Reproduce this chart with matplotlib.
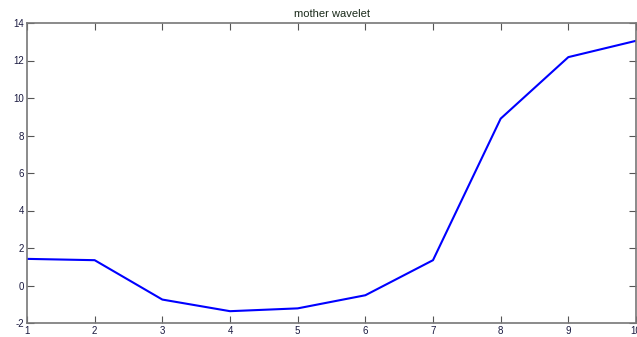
import matplotlib
matplotlib.use('Agg')
import matplotlib.pyplot as plt

plt.rcParams['font.family'] = ['Liberation Sans', 'DejaVu Sans']
plt.rcParams['axes.unicode_minus'] = False

x = [1, 2, 3, 4, 5, 6, 7, 8, 9, 10]
y = [1.42, 1.35, -0.75, -1.37, -1.22, -0.52, 1.35, 8.9, 12.18, 13.05]

xticks = [1, 2, 3, 4, 5, 6, 7, 8, 9, 10]
yticks = [-2, 0, 2, 4, 6, 8, 10, 12, 14]

fig = plt.figure(figsize=(6.37, 3.37), dpi=100)
ax = fig.add_axes([27 / 637, 14 / 337, 609 / 637, 300 / 337])

ax.plot(x, y, color='#0000ff', lw=1.5)

ax.set_xlim(1, 10)
ax.set_ylim(-2, 14)
ax.set_xticks(xticks)
ax.set_yticks(yticks)
ax.tick_params(direction='in', length=5, width=0.8, colors='#555555',
               labelsize=7, labelcolor='#1a1a40', top=True, right=True, pad=2)
for s in ax.spines.values():
    s.set_color('#777777')
    s.set_linewidth(1.2)

ax.set_title('mother wavelet', fontsize=8, color='#1a2a1a', pad=4)

fig.savefig('out.png', dpi=100)
